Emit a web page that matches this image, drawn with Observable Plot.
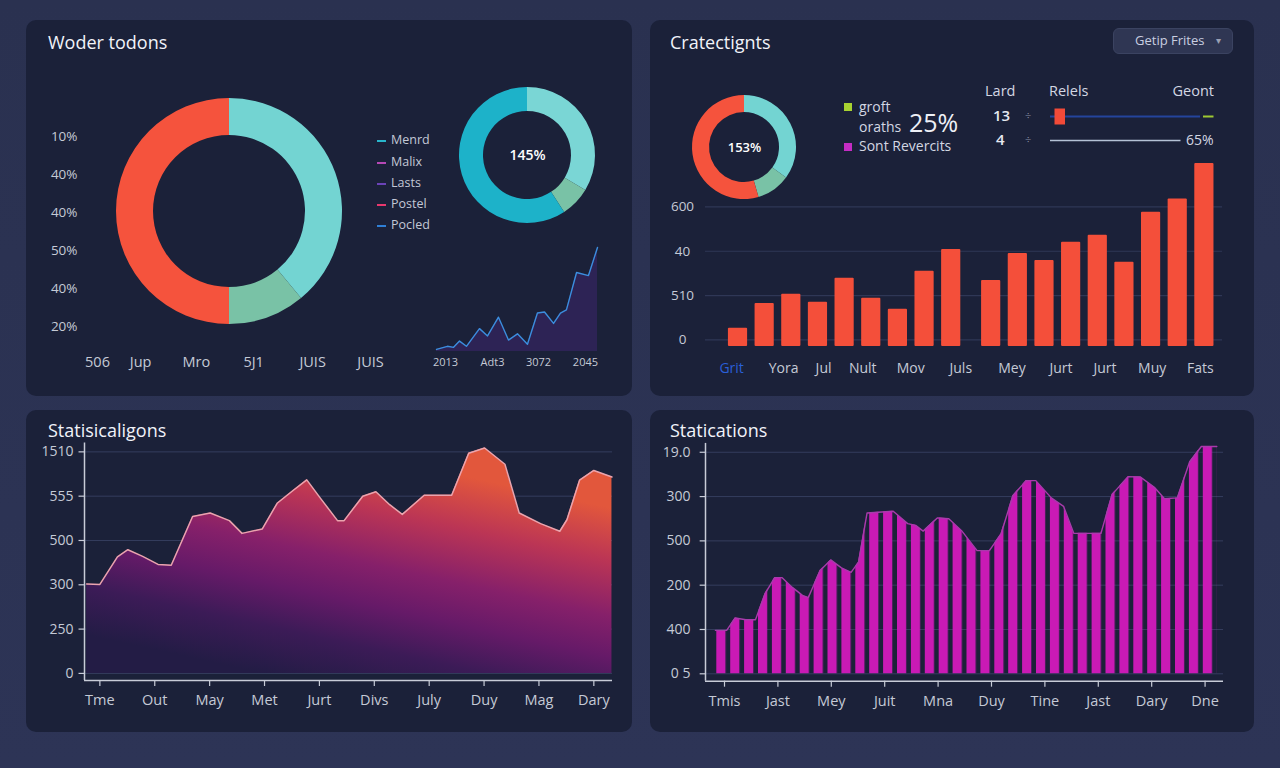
<!DOCTYPE html>
<html>
<head>
<meta charset="utf-8">
<script src="https://cdn.jsdelivr.net/npm/d3@7"></script>
<script src="https://cdn.jsdelivr.net/npm/@observablehq/plot@0.6"></script>
<style>
  html, body { margin: 0; padding: 0; }
  body { background: #2b3251; width: 1280px; height: 768px; overflow: hidden; font-family: "Open Sans", "Noto Sans", sans-serif; }
  #root { position: relative; width: 1280px; height: 768px; background: linear-gradient(180deg, #2a3150 0%, #2d3456 100%); }
  .panel { position: absolute; background: #1b2139; border-radius: 10px; }
  .txt { position: absolute; white-space: nowrap; line-height: 1; }
  svg { display: block; }
</style>
</head>
<body>
<div id="root"></div>
<script>
// ---------------- DATA ----------------
// Top-left panel
const tlTitle = "Woder todons";
const tlYLabels = ["10%", "40%", "40%", "50%", "40%", "20%"];
const tlXLabels = ["506", "Jup", "Mro", "5J1", "JUIS", "JUIS"];
const tlXAt = [0, 0.79, 1.81, 2.86, 3.94, 5];
const bigDonutNames = ["Menrd", "Lasts", "Postel"];
const bigDonutValues = [39, 11, 50];
const bigDonutColors = ["#73d4d2", "#79c2a6", "#f5533d"];
const legendNames = ["Menrd", "Malix", "Lasts", "Postel", "Pocled"];
const legendColors = ["#29b6cc", "#b548b5", "#6b43b8", "#e8386e", "#2f7fd6"];
const smallDonutValues = [33.6, 7.2, 59.2];
const smallDonutColors = ["#7ad6d5", "#79c2a6", "#1db2c9"];
const smallDonutLabel = "145%";
const sparkX = [0, 0.68, 1.06, 1.43, 1.86, 2.67, 3.17, 3.85, 4.47, 5.03, 5.65, 6.27, 6.71, 7.27, 7.70, 8.07, 8.70, 9.44, 10];
const sparkY = [2, 5, 4, 10, 5, 22, 15, 33, 11, 17, 7, 37, 38, 27, 37, 40, 76, 73, 100];
const sparkTickAt = [0.56, 3.48, 6.34, 9.25];
const sparkLabels = ["2013", "Adt3", "3072", "2045"];

// Top-right panel
const trTitle = "Cratectignts";
const trButton = "Getip Frites";
const trDonutValues = [35, 10.5, 54.5];
const trDonutColors = ["#73d4d2", "#79c2a6", "#f5533d"];
const trDonutLabel = "153%";
const trLegend1 = ["groft", "oraths"];
const trLegendBig = "25%";
const trLegend2 = "Sont Revercits";
const tableHeaders = ["Lard", "Relels", "Geont"];
const bulletLabels = ["13", "4"];
const bulletValues = [100, 87];
const bulletMarker = [3, 10];
const bulletTarget = [102, 109];
const bulletText = "65%";
const barPos = [0, 1, 2, 3, 4, 5, 6, 7, 8, 9.5, 10.5, 11.5, 12.5, 13.5, 14.5, 15.5, 16.5, 17.5];
const barValues = [2.6, 8.2, 10.3, 8.5, 13.9, 9.4, 6.9, 15.5, 20.4, 13.4, 19.5, 17.9, 22.0, 23.6, 17.5, 28.8, 31.8, 39.8];
const barFloor = -1.5;
const barYTicks = [0, 10, 20, 30];
const barYLabels = ["0", "510", "40", "600"];
const barXLabels = ["Grit", "Yora", "Jul", "Nult", "Mov", "Juls", "Mey", "Jurt", "Jurt", "Muy", "Fats"];
const barXAt = [-0.24, 1.71, 3.21, 4.68, 6.48, 8.36, 10.28, 12.12, 13.77, 15.54, 17.35];

// Bottom-left panel
const blTitle = "Statisicaligons";
const blX = [-0.24, 0, 0.32, 0.51, 0.78, 1.06, 1.30, 1.69, 2.01, 2.36, 2.59, 2.96, 3.23, 3.52, 3.77, 4.01, 4.33, 4.45, 4.79, 5.03, 5.28, 5.51, 5.91, 6.41, 6.72, 7.01, 7.38, 7.64, 8.03, 8.38, 8.51, 8.74, 9.00, 9.33];
const blY = [505, 502, 657, 698, 660, 615, 610, 885, 905, 862, 790, 815, 960, 1032, 1092, 992, 862, 862, 1000, 1025, 952, 897, 1005, 1005, 1242, 1272, 1180, 905, 845, 802, 867, 1090, 1145, 1108];
const blYTicks = [0, 250, 500, 750, 1000, 1250];
const blYLabels = ["0", "250", "300", "500", "555", "1510"];
const blXTicks = [0, 1, 2, 3, 4, 5, 6, 7, 8, 9];
const blXLabels = ["Tme", "Out", "May", "Met", "Jurt", "Divs", "July", "Duy", "Mag", "Dary"];

// Bottom-right panel
const brTitle = "Statications";
const brX = [-0.17, 0.04, 0.20, 0.40, 0.58, 0.76, 0.94, 1.08, 1.27, 1.46, 1.57, 1.79, 1.99, 2.19, 2.37, 2.51, 2.67, 3.16, 3.43, 3.58, 3.72, 3.99, 4.20, 4.44, 4.73, 4.96, 5.18, 5.40, 5.65, 5.83, 6.12, 6.35, 6.54, 7.05, 7.26, 7.56, 7.79, 8.05, 8.24, 8.48, 8.71, 8.93, 9.22];
const brY = [98, 98, 126, 122, 122, 181, 217, 217, 195, 177, 172, 233, 257, 239, 229, 252, 363, 367, 339, 335, 322, 352, 350, 323, 278, 278, 316, 402, 436, 436, 397, 378, 317, 317, 405, 445, 444, 421, 395, 397, 478, 513, 513];
const brYTicks = [0, 100, 200, 300, 400, 500];
const brYLabels = ["0 5", "400", "200", "500", "300", "19.0"];
const brXTicks = [0, 1, 2, 3, 4, 5, 6, 7, 8, 9];
const brXLabels = ["Tmis", "Jast", "Mey", "Juit", "Mna", "Duy", "Tine", "Jast", "Dary", "Dne"];

// ---------------- HELPERS ----------------
const root = document.getElementById("root");
const FONT = '"Open Sans", "Noto Sans", sans-serif';
const LABEL = "#c5cad6";
const baseStyle = {background: "transparent", color: LABEL, fontFamily: FONT, fontSize: "14px", overflow: "visible"};

function place(node, left, top) {
  const w = document.createElement("div");
  w.style.cssText = `position:absolute;left:${left}px;top:${top}px;`;
  w.append(node);
  root.append(w);
}
function panel(l, t, w, h) {
  const d = document.createElement("div");
  d.className = "panel";
  d.style.cssText = `left:${l}px;top:${t}px;width:${w}px;height:${h}px;`;
  root.append(d);
}
function text(str, x, yc, size, color, opts = {}) {
  const d = document.createElement("div");
  d.className = "txt";
  d.textContent = str;
  const top = yc - size * 0.56;
  let css = `top:${top}px;font-size:${size}px;color:${color};font-weight:${opts.weight || 400};`;
  if (opts.anchor === "end") css += `right:${1280 - x}px;`; else css += `left:${x}px;`;
  d.style.cssText = css;
  root.append(d);
  return d;
}
function defsMark(html) {
  return () => {
    const d = document.createElementNS("http://www.w3.org/2000/svg", "defs");
    d.innerHTML = html;
    return d;
  };
}
function donutMark(values, colors, r0, r1, size) {
  return () => {
    const g = d3.create("svg:g").attr("transform", `translate(${size / 2},${size / 2})`);
    const arcs = d3.pie().sort(null)(values);
    g.selectAll("path").data(arcs).join("path")
      .attr("d", d3.arc().innerRadius(r0).outerRadius(r1))
      .attr("fill", (d, i) => colors[i]);
    return g.node();
  };
}
function donutPlot(values, colors, r0, r1, size, label, fs) {
  return Plot.plot({
    width: size, height: size, margin: 0,
    x: {axis: null}, y: {axis: null},
    style: baseStyle,
    marks: [
      donutMark(values, colors, r0, r1, size),
      Plot.text([label], {frameAnchor: "middle", text: d => d, fill: "#ffffff", fontSize: fs, fontWeight: 600})
    ]
  });
}

// ---------------- PANELS ----------------
panel(26, 20, 606, 376);
panel(650, 20, 604, 376);
panel(26, 410, 606, 322);
panel(650, 410, 604, 322);

text(tlTitle, 48, 43, 18, "#f1f3f9", {weight: 500});
text(trTitle, 670, 43, 18, "#f1f3f9", {weight: 500});
text(blTitle, 48, 431, 18, "#f1f3f9", {weight: 500});
text(brTitle, 670, 431, 18, "#f1f3f9", {weight: 500});

// ---------------- TOP LEFT ----------------
const tlIdx = d3.range(tlYLabels.length);
place(Plot.plot({
  width: 606, height: 376,
  marginLeft: 51, marginRight: 262, marginTop: 116, marginBottom: 70,
  x: {domain: [-0.366, 5], axis: null},
  y: {domain: [0, 5], reverse: true, axis: null},
  style: baseStyle,
  marks: [
    Plot.text(tlIdx, {x: -0.366, y: i => i, text: i => tlYLabels[i], textAnchor: "end", fontSize: 13.5}),
    Plot.text(tlIdx, {x: i => tlXAt[i], y: 5, text: i => tlXLabels[i], dy: 36, fontSize: 14.5})
  ]
}), 26, 20);

place(donutPlot(bigDonutValues, bigDonutColors, 76, 113, 240, "", 1), 229 - 120, 211 - 120);
place(donutPlot(smallDonutValues, smallDonutColors, 44, 68, 150, smallDonutLabel, 14), 527 - 75, 155 - 75);

// legend
const legendY = [141, 163, 184, 205, 226];
legendNames.forEach((n, i) => {
  const s = document.createElement("div");
  s.style.cssText = `position:absolute;left:377px;top:${legendY[i] - 1}px;width:9px;height:2px;background:${legendColors[i]};`;
  root.append(s);
  text(n, 391, legendY[i], 12.5, "#c3c8d6");
});

// sparkline area
const spark = sparkX.map((x, i) => ({x, y: sparkY[i]}));
place(Plot.plot({
  width: 185, height: 140,
  marginLeft: 10, marginRight: 14, marginTop: 12, marginBottom: 24,
  x: {domain: [0, 10], axis: null},
  y: {domain: [0, 100], axis: null},
  style: baseStyle,
  marks: [
    Plot.areaY(spark, {x: "x", y: "y", fill: "#2e2456", fillOpacity: 0.95}),
    Plot.lineY(spark, {x: "x", y: "y", stroke: "#3b8ede", strokeWidth: 1.4}),
    Plot.text(sparkTickAt, {x: d => d, y: 0, text: (d, i) => sparkLabels[i], dy: 11, fontSize: 11})
  ]
}), 426, 235);

// ---------------- TOP RIGHT ----------------
const btn = document.createElement("div");
btn.style.cssText = "position:absolute;left:1113px;top:28px;width:120px;height:26px;box-sizing:border-box;background:#2f3653;border:1px solid #3b4361;border-radius:6px;";
root.append(btn);
text(trButton, 1135, 41, 13, "#c9cee0");
text("▾", 1216, 41, 10, "#9aa0b4");

place(donutPlot(trDonutValues, trDonutColors, 35, 52, 120, trDonutLabel, 13), 744 - 60, 147 - 60);

const sq1 = document.createElement("div");
sq1.style.cssText = "position:absolute;left:844px;top:103px;width:8px;height:8px;background:#a8d231;";
root.append(sq1);
const sq2 = document.createElement("div");
sq2.style.cssText = "position:absolute;left:844px;top:143px;width:8px;height:8px;background:#c42cc4;";
root.append(sq2);
text(trLegend1[0], 859, 108, 14, "#d3d7e3");
text(trLegend1[1], 859, 128, 14, "#d3d7e3");
text(trLegendBig, 909, 124, 25, "#eef0f6");
text(trLegend2, 859, 147, 14, "#d3d7e3");

text(tableHeaders[0], 985, 92, 14.5, "#d3d7e3");
text(tableHeaders[1], 1049, 92, 14.5, "#d3d7e3");
text(tableHeaders[2], 1214, 92, 14.5, "#d3d7e3", {anchor: "end"});
text(bulletLabels[0], 993, 116, 15, "#e6e9f1", {weight: 600});
text(bulletLabels[1], 996, 140, 15, "#e6e9f1", {weight: 600});
text("÷", 1025, 116, 11, "#8a90a4");
text("÷", 1025, 140, 11, "#8a90a4");

const rows = bulletLabels.map((label, i) => ({label, value: bulletValues[i]}));
place(Plot.plot({
  width: 190, height: 56,
  marginLeft: 10, marginRight: 30, marginTop: 16, marginBottom: 16,
  x: {domain: [0, 100], axis: null},
  y: {type: "point", domain: bulletLabels, padding: 0, axis: null},
  style: baseStyle,
  marks: [
    Plot.ruleY([rows[0]], {y: "label", x1: 0, x2: "value", stroke: "#24449c", strokeWidth: 2}),
    Plot.ruleY([rows[0]], {y: "label", x1: bulletMarker[0], x2: bulletMarker[1], stroke: "#f24a38", strokeWidth: 16}),
    Plot.ruleY([rows[0]], {y: "label", x1: bulletTarget[0], x2: bulletTarget[1], stroke: "#9ec932", strokeWidth: 2}),
    Plot.ruleY([rows[1]], {y: "label", x1: 0, x2: "value", stroke: "#b5c2d6", strokeWidth: 1.5}),
    Plot.text([rows[1]], {y: "label", x: "value", text: () => bulletText, textAnchor: "start", dx: 5, fontSize: 14, fill: "#d3d7e3"})
  ]
}), 1040, 100);

// bar chart
const bars = barPos.map((p, i) => ({p, v: barValues[i]}));
const barIdx = d3.range(barXLabels.length);
place(Plot.plot({
  width: 604, height: 246,
  marginLeft: 55, marginRight: 32, marginTop: 13, marginBottom: 50,
  x: {domain: [-1.22, 18.18], axis: null},
  y: {domain: [barFloor, 39.8], axis: null},
  style: baseStyle,
  marks: [
    Plot.ruleY(barYTicks, {stroke: "#2f3756", strokeWidth: 1.2}),
    Plot.rectY(bars, {x1: d => d.p - 0.36, x2: d => d.p + 0.36, y1: barFloor, y2: "v", fill: "#f44f3a", rx: 1}),
    Plot.text(barYTicks, {y: d => d, text: (d, i) => barYLabels[i], frameAnchor: "left", dx: -23, textAnchor: "middle", fontSize: 13.5}),
    Plot.text(barIdx.filter(i => i === 0), {x: i => barXAt[i], y: barFloor, text: i => barXLabels[i], dy: 22, fontSize: 14, fill: "#2a5fd8"}),
    Plot.text(barIdx.filter(i => i > 0), {x: i => barXAt[i], y: barFloor, text: i => barXLabels[i], dy: 22, fontSize: 14})
  ]
}), 650, 150);

// ---------------- BOTTOM LEFT ----------------
const bl = blX.map((x, i) => ({x, y: blY[i]}));
const blXDom = [-0.28, 9.34], blYDom = [-40, 1300];
place(Plot.plot({
  width: 606, height: 280,
  marginLeft: 58, marginRight: 20, marginTop: 2.5, marginBottom: 40,
  x: {domain: blXDom, axis: null},
  y: {domain: blYDom, axis: null},
  style: baseStyle,
  marks: [
    defsMark(`<linearGradient id="blGrad" gradientUnits="userSpaceOnUse" x1="300" y1="6" x2="250" y2="236">
      <stop offset="0" stop-color="#e2573c"/>
      <stop offset="0.22" stop-color="#bb3555"/>
      <stop offset="0.45" stop-color="#86206a"/>
      <stop offset="0.62" stop-color="#661a68"/>
      <stop offset="0.8" stop-color="#3c1b57"/>
      <stop offset="1" stop-color="#231c45"/>
    </linearGradient>`),
    Plot.ruleY(blYTicks, {stroke: "#353d5e", strokeWidth: 1}),
    Plot.areaY(bl, {x: "x", y: "y", fill: "url(#blGrad)"}),
    Plot.lineY(bl, {x: "x", y: "y", stroke: "#eaa4ae", strokeWidth: 1.5}),
    Plot.ruleX([blXDom[0]], {stroke: "#c8ccd8", strokeWidth: 1.5}),
    Plot.ruleY([blYDom[0]], {stroke: "#c8ccd8", strokeWidth: 1.5}),
    Plot.ruleY(blYTicks, {x1: blXDom[0] - 0.1, x2: blXDom[0], stroke: "#c8ccd8", strokeWidth: 1.2}),
    Plot.ruleX(blXTicks, {y1: blYDom[0], y2: blYDom[0] - 34, stroke: "#c8ccd8", strokeWidth: 1.2}),
    Plot.text(blYTicks, {x: blXDom[0], y: d => d, text: (d, i) => blYLabels[i], textAnchor: "end", dx: -11, fontSize: 14}),
    Plot.text(blXTicks, {x: d => d, y: blYDom[0], text: (d, i) => blXLabels[i], dy: 20, fontSize: 14.5})
  ]
}), 26, 440);

// ---------------- BOTTOM RIGHT ----------------
const br = brX.map((x, i) => ({x, y: brY[i]}));
const brXDom = [-0.356, 9.345], brYDom = [-16.7, 520];
place(Plot.plot({
  width: 604, height: 280,
  marginLeft: 55, marginRight: 31, marginTop: 2.9, marginBottom: 39.3,
  x: {domain: brXDom, axis: null},
  y: {domain: brYDom, axis: null},
  style: baseStyle,
  marks: [
    defsMark(`<pattern id="brStripes" patternUnits="userSpaceOnUse" x="66.3" y="0" width="13.9" height="20">
      <rect x="0" y="0" width="9.2" height="20" fill="#c91ab5"/>
    </pattern>`),
    Plot.ruleY(brYTicks, {stroke: "#353d5e", strokeWidth: 1}),
    Plot.areaY(br, {x: "x", y: "y", fill: "url(#brStripes)"}),
    Plot.lineY(br, {x: "x", y: "y", stroke: "#a83bab", strokeWidth: 1.4}),
    Plot.ruleX([brXDom[0]], {stroke: "#c8ccd8", strokeWidth: 1.5}),
    Plot.ruleY([brYDom[0]], {stroke: "#c8ccd8", strokeWidth: 1.5}),
    Plot.ruleY(brYTicks, {x1: brXDom[0] - 0.1, x2: brXDom[0], stroke: "#c8ccd8", strokeWidth: 1.2}),
    Plot.ruleX(brXTicks, {y1: brYDom[0], y2: brYDom[0] - 13.5, stroke: "#c8ccd8", strokeWidth: 1.2}),
    Plot.text(brYTicks, {x: brXDom[0], y: d => d, text: (d, i) => brYLabels[i], textAnchor: "end", dx: -15, fontSize: 14}),
    Plot.text(brXTicks, {x: d => d, y: brYDom[0], text: (d, i) => brXLabels[i], dy: 20, fontSize: 14.5})
  ]
}), 650, 440);
</script>
</body>
</html>
